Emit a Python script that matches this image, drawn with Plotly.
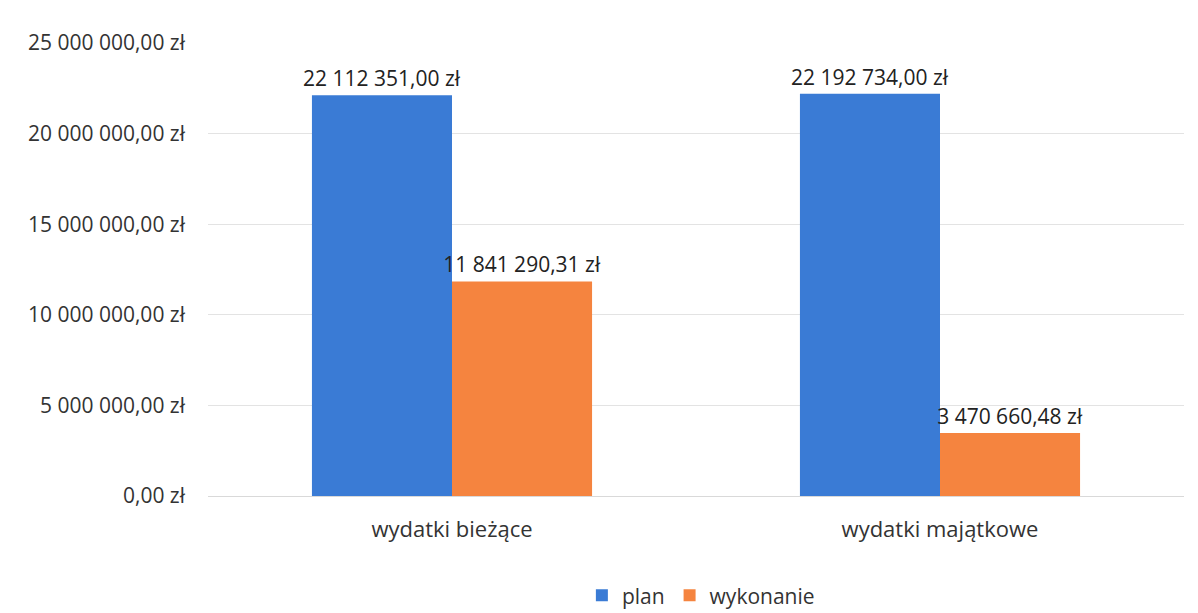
import plotly.graph_objects as go

categories = ["wydatki bieżące", "wydatki majątkowe"]
plan = [22112351.00, 22192734.00]
wykonanie = [11841290.31, 3470660.48]
tick_values = [0, 5000000, 10000000, 15000000, 20000000, 25000000]


def fmt(v):
    s = f"{v:,.2f}"
    whole, frac = s.split(".")
    return whole.replace(",", " ") + "," + frac + " zł"


FONT = "Open Sans"
fig = go.Figure()
fig.add_trace(go.Bar(
    name="plan", x=categories, y=plan,
    marker=dict(color="#3A7BD5", line=dict(width=0)),
    text=[fmt(v) for v in plan], textposition="outside", constraintext="none",
    textfont=dict(family=FONT, size=21, color="#222222"),
    cliponaxis=False,
))
fig.add_trace(go.Bar(
    name="wykonanie", x=categories, y=wykonanie,
    marker=dict(color="#F5843F", line=dict(width=0)),
    text=[fmt(v) for v in wykonanie], textposition="outside", constraintext="none",
    textfont=dict(family=FONT, size=21, color="#222222"),
    cliponaxis=False,
))
fig.update_layout(
    width=1190, height=605,
    margin=dict(l=200, r=14, t=35, b=117, autoexpand=False),
    paper_bgcolor="white", plot_bgcolor="white",
    barmode="group", bargap=0.426, bargroupgap=0,
    font=dict(family=FONT, size=21, color="#333333"),
    showlegend=True,
    legend=dict(orientation="h", x=0.505, xanchor="center", y=-0.22, yanchor="middle",
                font=dict(family=FONT, size=21, color="#333333"), itemwidth=30,
                traceorder="normal"),
    uniformtext=dict(mode=False),
)
fig.update_yaxes(
    range=[0, 25000000], tickvals=tick_values, ticktext=[fmt(v) for v in tick_values],
    showgrid=True, gridcolor="#E3E3E3", gridwidth=1, zeroline=False,
    showline=False, ticks="", ticklabelstandoff=22,
    tickfont=dict(family=FONT, size=21, color="#333333"),
)
fig.update_xaxes(
    showgrid=False, showline=True, linecolor="#D9D9D9", linewidth=1, ticks="",
    tickfont=dict(family=FONT, size=22, color="#333333"), ticklabelstandoff=14,
)
fig.write_html("out.html")
